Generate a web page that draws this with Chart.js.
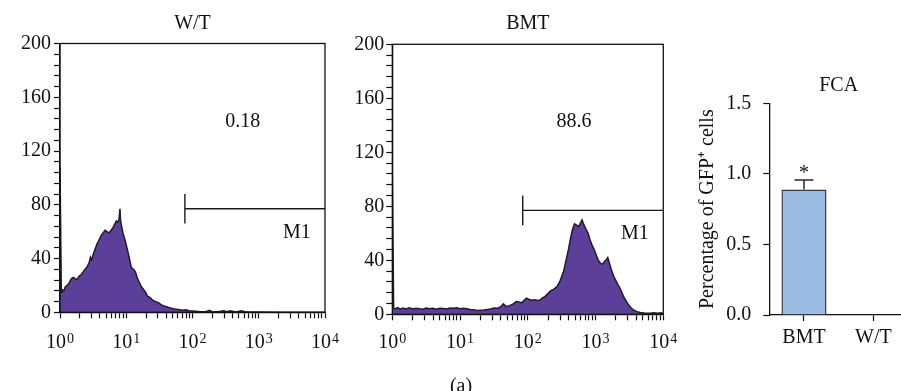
<!DOCTYPE html>
<html>
<head>
<meta charset="utf-8">
<script src="https://cdn.jsdelivr.net/npm/chart.js@4.4.1/dist/chart.umd.min.js"></script>
<style>
html,body{margin:0;padding:0;background:#fff;width:901px;height:391px;overflow:hidden;position:relative;}
canvas{position:absolute;top:0;}
#cap{position:absolute;left:430px;width:62px;top:374px;height:24px;line-height:24px;text-align:center;font:20px 'Liberation Serif',serif;color:#111;}
</style>
</head>
<body>
<canvas id="c1" width="345" height="391" style="left:0px"></canvas>
<canvas id="c2" width="345" height="391" style="left:340px"></canvas>
<canvas id="c3" width="240" height="391" style="left:680px"></canvas>
<div id="cap">(a)</div>
<script>
// ---------- data ----------
const panelTitles = ['W/T', 'BMT', 'FCA'];

// W/T flow histogram: log10 fluorescence (decades) and event counts
const wtLogFL = [0.00,0.02,0.03,0.06,0.08,0.11,0.14,0.17,0.20,0.23,0.26,0.29,0.32,0.35,0.38,0.41,0.44,0.46,0.48,0.50,
  0.53,0.56,0.59,0.62,0.65,0.68,0.71,0.74,0.77,0.80,0.83,0.85,0.87,0.89,0.905,0.915,0.93,0.95,0.98,1.01,
  1.03,1.06,1.08,1.11,1.14,1.17,1.20,1.23,1.26,1.29,1.32,1.36,1.40,1.44,1.49,1.53,1.58,1.63,1.68,1.73,
  1.79,1.85,1.90,1.95,2.00,2.05,2.12,2.20,2.26,2.30,2.40,2.47,2.52,2.57,2.65,2.74,2.80,3.00,3.30,3.60,4.00];
const wtCounts = [108,15,17,16,19,20,22,25,26,25,24.5,27,28,30,32,34,37,41,39,43,
  47,51,54,57,59,61,60,59,61,63,66,68,67,69,77,68,64,59,54,48,
  44,37,33,32,30,25,22,19,17,15,12,11,9,8,7,5.5,4.5,3.7,3,2.5,
  2,1.6,1.8,1.2,1.0,0.8,0.5,0.4,1.5,0.3,0.6,1.2,0.4,1.1,0.3,1.2,0.2,0.2,0.1,0.1,0];

// BMT flow histogram
const bmtLogFL = [0.00,0.02,0.04,0.08,0.12,0.16,0.20,0.25,0.30,0.35,0.40,0.45,0.50,0.55,0.60,0.65,0.70,0.75,0.80,0.85,
  0.90,0.95,1.00,1.05,1.10,1.15,1.20,1.25,1.30,1.35,1.40,1.45,1.50,1.55,1.60,1.64,1.68,1.73,1.78,1.83,
  1.87,1.91,1.95,1.98,2.02,2.06,2.10,2.14,2.18,2.22,2.26,2.30,2.34,2.38,2.43,2.47,2.50,2.53,2.56,2.60,
  2.63,2.66,2.69,2.72,2.75,2.78,2.80,2.83,2.86,2.89,2.92,2.95,2.98,3.01,3.04,3.07,3.10,3.13,3.16,3.18,
  3.21,3.24,3.27,3.30,3.33,3.36,3.39,3.42,3.45,3.48,3.52,3.56,3.61,3.66,3.72,3.80,3.86,3.92,3.97,4.00];
const bmtCounts = [104,4.5,4,5,3.8,4.6,4,4.8,3.9,4.5,4.2,3.8,4.6,4.1,4.4,3.7,4.5,4.3,3.9,4.6,
  4.4,4.8,4.2,4.5,4.1,3.6,3.3,2.8,3.0,3.2,3.5,4.0,4.6,4.4,5.6,7.8,5.8,6.4,7.5,9.5,
  9.2,8.5,10.5,12,11,10.5,10.8,10.2,10.7,12.2,13.5,15.5,17.5,18.5,20.5,24,28,32,39,48,
  56,63,67,66,65,68,70,66,63,60,55,51,48,44,40,38,37,39,40.5,42,
  37,32,28,25,22,19.5,16,12.5,10,7.5,5,3.2,2,1.3,1,0.8,1.2,0.7,1.1,0.5];

const histYLabels = [0, 40, 80, 120, 160, 200];
const decadeBase = '10';
const decadeExps = ['0', '1', '2', '3', '4'];
const wtGate = [1.885, 77];     // M1 gate start (decades), drawn level (counts)
const bmtGate = [1.925, 77];
const gateName = 'M1';
const wtGatePct = '0.18';
const bmtGatePct = '88.6';

// FCA bar chart
const fcaGroups = ['BMT', 'W/T'];
const fcaMean = [0.89, 0];
const fcaErr = [0.067, 0];
const fcaSig = ['*', ''];
const fcaYTicks = [0, 0.5, 1.0, 1.5];

// ---------- setup ----------
const FONT = "'Liberation Serif', 'Times New Roman', serif";
const INK = '#111';
Chart.defaults.font.family = FONT;
Chart.defaults.font.size = 20;
Chart.defaults.color = INK;
Chart.defaults.animation = false;
const H = 391;

const frameBox = {
  id: 'frameBox',
  afterDraw(chart, args, opts) {
    if (!opts.show) return;
    const {ctx, chartArea: a} = chart;
    ctx.save();
    ctx.strokeStyle = INK; ctx.lineWidth = 1.3;
    ctx.strokeRect(a.left, a.top, a.right - a.left, a.bottom - a.top);
    ctx.restore();
  }
};
const panelTitle = {
  id: 'panelTitle',
  afterDraw(chart, args, opts) {
    if (!opts.text) return;
    const {ctx, chartArea: a} = chart;
    ctx.save();
    ctx.font = '20px ' + FONT; ctx.fillStyle = INK;
    ctx.textAlign = 'center'; ctx.textBaseline = 'alphabetic';
    ctx.fillText(opts.text, (a.left + a.right) / 2, opts.baseline);
    ctx.restore();
  }
};
const dataTexts = {
  id: 'dataTexts',
  afterDraw(chart, args, opts) {
    const items = opts.items || [];
    const {ctx} = chart; const xs = chart.scales.x, ys = chart.scales.y;
    ctx.save();
    ctx.font = '20px ' + FONT; ctx.fillStyle = INK;
    ctx.textAlign = 'center'; ctx.textBaseline = 'alphabetic';
    items.forEach(it => ctx.fillText(it.text, xs.getPixelForValue(it.x), ys.getPixelForValue(it.y)));
    ctx.restore();
  }
};
// decade tick labels "10" with a raised exponent
const powerLabels = {
  id: 'powerLabels',
  afterDraw(chart, args, opts) {
    const {ctx} = chart; const xs = chart.scales.x;
    ctx.save();
    ctx.fillStyle = INK; ctx.textBaseline = 'alphabetic'; ctx.textAlign = 'left';
    decadeExps.forEach((e, d) => {
      ctx.font = '20px ' + FONT;
      const wb = ctx.measureText(decadeBase).width;
      ctx.font = '14px ' + FONT;
      const we = ctx.measureText(e).width;
      const x0 = xs.getPixelForValue(d) - (wb + 1 + we) / 2;
      ctx.font = '20px ' + FONT;
      ctx.fillText(decadeBase, x0, opts.baseline);
      ctx.font = '14px ' + FONT;
      ctx.fillText(e, x0 + wb + 1, opts.baseline - 5);
    });
    ctx.restore();
  }
};
const errorBars = {
  id: 'errorBars',
  afterDatasetsDraw(chart, args, opts) {
    const {ctx} = chart; const ys = chart.scales.y;
    const meta = chart.getDatasetMeta(0);
    ctx.save();
    meta.data.forEach((bar, i) => {
      if (fcaErr[i] > 0) {
        const yTop = ys.getPixelForValue(fcaMean[i] + fcaErr[i]);
        ctx.strokeStyle = '#2a2a2a'; ctx.lineWidth = 1.5;
        ctx.beginPath();
        ctx.moveTo(bar.x, bar.y); ctx.lineTo(bar.x, yTop);
        ctx.moveTo(bar.x - 9.5, yTop); ctx.lineTo(bar.x + 9.5, yTop);
        ctx.stroke();
        if (fcaSig[i]) {
          ctx.font = '20px ' + FONT; ctx.fillStyle = INK;
          ctx.textAlign = 'center'; ctx.textBaseline = 'alphabetic';
          ctx.fillText(fcaSig[i], bar.x, yTop - 1);
        }
      }
    });
    ctx.restore();
  }
};

function axisGrid() {
  return {drawOnChartArea: false, drawTicks: true, tickLength: 6, tickColor: INK, tickWidth: 1.2, color: INK};
}

function makeHist(id, canvasW, geom, title, xs, ys, gate, pct) {
  const pts = xs.map((x, i) => ({x: x, y: ys[i]}));
  const gatePts = [{x: gate[0], y: gate[1] - 11}, {x: gate[0], y: gate[1] + 11},
                   {x: gate[0], y: gate[1]}, {x: 4, y: gate[1]}];
  new Chart(document.getElementById(id), {
    type: 'line',
    data: {datasets: [
      {data: pts, fill: 'origin', backgroundColor: '#5c3f98', borderColor: '#24182f', borderWidth: 1.5,
       pointRadius: 0, tension: 0, order: 2},
      {data: gatePts, fill: false, borderColor: '#1a1a1a', borderWidth: 1.4, pointRadius: 0, tension: 0, order: 1}
    ]},
    options: {
      responsive: false, devicePixelRatio: 1, animation: false,
      layout: {padding: {left: 0, top: geom.top, right: canvasW - geom.right, bottom: 0}},
      scales: {
        x: {
          type: 'linear', min: 0, max: 4,
          afterBuildTicks: s => {
            const t = [];
            for (let d = 0; d < 4; d++) for (let m = 1; m < 10; m++) t.push({value: d + Math.log10(m)});
            t.push({value: 4});
            s.ticks = t;
          },
          afterFit: s => { s.height = H - geom.bottom; },
          ticks: {autoSkip: false, maxRotation: 0, padding: 12, callback: () => ''},
          grid: axisGrid(),
          border: {color: INK, width: 1.3}
        },
        y: {
          type: 'linear', min: 0, max: 200,
          afterBuildTicks: s => {
            const t = [];
            for (let v = 0; v <= 200; v += 8) t.push({value: v});
            s.ticks = t;
          },
          afterFit: s => { s.width = geom.left; },
          ticks: {autoSkip: false, padding: geom.yPad,
                  callback: v => histYLabels.includes(v) ? String(v) : ''},
          grid: axisGrid(),
          border: {color: INK, width: 1.3}
        }
      },
      plugins: {
        legend: {display: false}, tooltip: {enabled: false},
        frameBox: {show: true},
        panelTitle: {text: title, baseline: 29.3},
        powerLabels: {baseline: 348.3},
        dataTexts: {items: [{text: pct, x: geom.pctX, y: geom.pctY}, {text: gateName, x: geom.mX, y: geom.mY}]}
      }
    },
    plugins: [frameBox, panelTitle, dataTexts, powerLabels]
  });
}

makeHist('c1', 345, {left: 60, right: 325, top: 43.5, bottom: 312.3, yPad: 3,
  pctX: 2.758, pctY: 138.1, mX: 3.577, mY: 55.1}, panelTitles[0], wtLogFL, wtCounts, wtGate, wtGatePct);
makeHist('c2', 345, {left: 52.3, right: 323.3, top: 44.3, bottom: 314.3, yPad: 2,
  pctX: 2.682, pctY: 139, mX: 3.582, mY: 55.6}, panelTitles[1], bmtLogFL, bmtCounts, bmtGate, bmtGatePct);

new Chart(document.getElementById('c3'), {
  type: 'bar',
  data: {labels: fcaGroups, datasets: [{data: fcaMean, backgroundColor: '#9bbde4', borderColor: '#3b3b3b',
    borderWidth: 1.5, barPercentage: 0.65, categoryPercentage: 1}]},
  options: {
    responsive: false, devicePixelRatio: 1, animation: false,
    layout: {padding: {left: 0, top: 103.3, right: 12, bottom: 0}},
    scales: {
      x: {
        grid: Object.assign(axisGrid(), {offset: false}),
        border: {color: INK, width: 1.3},
        ticks: {padding: 5},
        afterFit: s => { s.height = H - 315; }
      },
      y: {
        min: 0, max: 1.5,
        afterBuildTicks: s => { s.ticks = fcaYTicks.map(v => ({value: v})); },
        ticks: {padding: 12, callback: v => Number(v).toFixed(1)},
        grid: axisGrid(),
        border: {color: INK, width: 1.3},
        title: {display: true, text: 'Percentage of GFP\u207A cells', padding: {top: 16, bottom: 0}, font: {size: 20}},
        afterFit: s => { s.width = 89.3; }
      }
    },
    plugins: {
      legend: {display: false}, tooltip: {enabled: false},
      panelTitle: {text: panelTitles[2], baseline: 90.7}
    }
  },
  plugins: [panelTitle, errorBars]
});
</script>
</body>
</html>
